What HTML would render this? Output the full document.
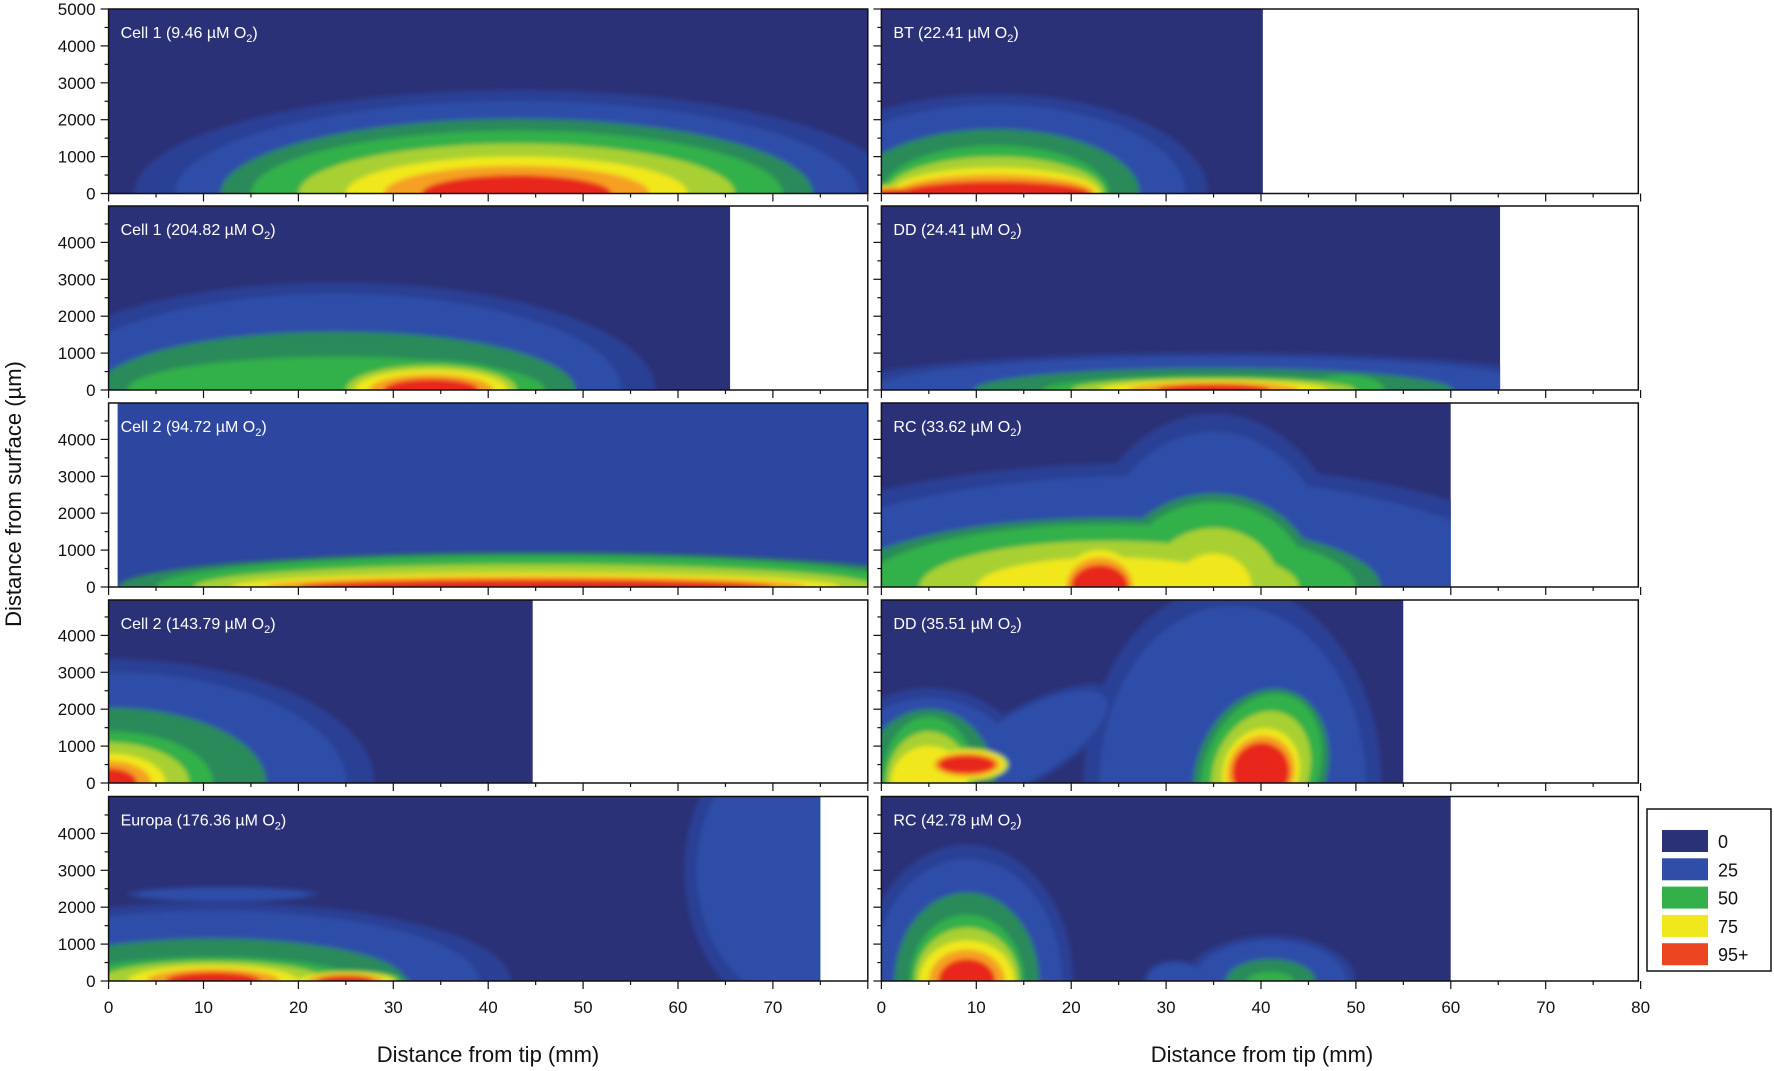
<!DOCTYPE html>
<html><head><meta charset="utf-8"><style>
html,body{margin:0;background:#fff;width:1774px;height:1071px;overflow:hidden}
svg{display:block;overflow:hidden}
text{font-family:"Liberation Sans",sans-serif}
</style></head><body>
<svg id="s" width="1774" height="1071" xmlns="http://www.w3.org/2000/svg"></svg>
<script>
const S=document.getElementById('s');let h='';
h+='<defs><filter id="b" x="-20%" y="-20%" width="140%" height="140%"><feGaussianBlur stdDeviation="2.5"/></filter></defs>';
const C={bg:'#2b3176',b1:'#2c3f95',b:'#2e4ea8',g0:'#2a8a5a',g:'#33b04a',gy:'#a8d030',y:'#f0e81c',o:'#f5a020',r:'#e8281e'};
const rows=[[9,193.5],[206,390],[403,587],[600,783],[796.5,981]];
const cols=[[108.6,867.8],[881.4,1638.3]];
const PX=(867.8-108.6)/80, PY=184.5/5000;
function lv(bl){const [cx,cy,rot,b,g,y,r]=bl;const L=[];
 const mid=(a,c,t)=>a?[a[0]+(c[0]-a[0])*t,a[1]+(c[1]-a[1])*t]:[c[0]*1.1,c[1]*1.1];
 if(b){L[0]=[b[0]*1.12,b[1]*1.12];L[1]=b;}
 if(g){L[2]=mid(b,g,0.6);L[3]=g;}
 if(y){L[4]=mid(g,y,0.5);L[5]=y;}
 if(r){L[6]=mid(y,r,0.5);L[7]=r;}
 return L;}
const seq=['b1','b','g0','g','gy','y','o','r'];
const P=[
 {c:0,r:0,end:80,bg:C.bg,t:'Cell 1 (9.46 µM O',bl:[[43,0,0,[36,2500],[28,1700],[18,1000],[10,500]]]},
 {c:0,r:1,end:65.5,bg:C.bg,t:'Cell 1 (204.82 µM O',bl:[[24,0,0,[30,2600],[22,900]],[34,0,0,null,[10,800],[8,550],[5,300]]]},
 {c:0,r:2,end:80,bg:'#2d46a0',t:'Cell 2 (94.72 µM O',bl:[[45,0,0,null,[40,850],[32,380],[25,200]]]},
 {c:0,r:3,end:44.7,bg:C.bg,t:'Cell 2 (143.79 µM O',bl:[[0,0,0,[25,3000],[11,1400],[6,800],[3,400]]]},
 {c:0,r:4,end:75,bg:C.bg,t:'Europa (176.36 µM O',bl:[[11,0,0,[28,1900],[15,650],[9,420],[5,240]],[25,0,0,null,[6,300],[5,220],[3,150]],[12,2350,0,[9,180]],[73,3000,0,[11,3600]]]},
 {c:1,r:0,end:40.2,bg:C.bg,t:'BT (22.41 µM O',bl:[[12,0,0,[20,2400],[12,1300],[11,700],[10,330]],[2,0,0,null,[5,300],[4,200],[3,120]]]},
 {c:1,r:1,end:65.2,bg:C.bg,t:'DD (24.41 µM O',bl:[[35,0,0,[36,900],[18,380],[12,260],[6,160]],[49,0,0,null,[4,400]]]},
 {c:1,r:2,end:60,bg:C.bg,t:'RC (33.62 µM O',bl:[[28,0,0,[40,3000]],[35,0,0,[13,4200]],[24,0,0,null,[26,1700],[14,800]],[35,0,0,null,[10,2300],[4,900]],[23,0,0,null,[5,1400],[4,1000],[3,600]]]},
 {c:1,r:3,end:55,bg:C.bg,t:'DD (35.51 µM O',bl:[[37,0,0,[14,4800]],[15,1000,-30,[10,900]],[5,0,0,[10,2300],[5,1800],[4,1000]],[9,500,0,null,null,[4,400],[3,250]],[40,300,22,[8,2500],[6,2200],[4,1200],[3,800]]]},
 {c:1,r:4,end:60,bg:C.bg,t:'RC (42.78 µM O',bl:[[9,0,0,[10,3300],[6,1800],[5,1100],[3,600]],[41,0,0,[8,1100],[2.5,250]],[31,0,0,[3,500]]]}
];
P.forEach((p,i)=>{const [x0,x1]=cols[p.c],[yt,yb]=rows[p.r];const xe=x0+p.end*PX;
 h+=`<clipPath id="c${i}"><rect x="${x0}" y="${yt}" width="${xe-x0}" height="${yb-yt}"/></clipPath>`;
 h+=`<g clip-path="url(#c${i})"><rect x="${x0}" y="${yt}" width="${xe-x0}" height="${yb-yt}" fill="${p.bg}"/><g filter="url(#b)">`;
 const Ls=p.bl.map(lv);
 for(let k=0;k<8;k++)p.bl.forEach((bl,j)=>{const e=Ls[j][k];if(!e)return;const X=x0+bl[0]*PX,Y=yb-bl[1]*PY;
  h+=`<ellipse cx="${X}" cy="${Y}" rx="${e[0]*PX}" ry="${e[1]*PY}" fill="${C[seq[k]]}" transform="rotate(${bl[2]} ${X} ${Y})"/>`;});
 h+='</g></g>';
 if(i==2)h+=`<rect x="${x0}" y="${yt}" width="9" height="${yb-yt}" fill="#fff"/>`;
 h+=`<rect x="${x0}" y="${yt}" width="${x1-x0}" height="${yb-yt}" fill="none" stroke="#111" stroke-width="1.5"/>`;
 h+=`<text x="${x0+12}" y="${yt+29}" font-size="16" fill="#fff">${p.t}<tspan font-size="11" dy="4">2</tspan><tspan dy="-4">)</tspan></text>`;
 for(let m=0;m<=80;m+=5){const X=x0+m*PX;h+=`<line x1="${X}" y1="${yb}" x2="${X}" y2="${yb+(m%10?4:8)}" stroke="#111" stroke-width="1.2"/>`;}
 for(let v=0;v<=5000;v+=500){const Y=yb-v*PY;if(v==5000&&p.r)continue;h+=`<line x1="${x0}" y1="${Y}" x2="${x0-(v%1000?4:8)}" y2="${Y}" stroke="#111" stroke-width="1.2"/>`;
  if(p.c==0&&v%1000==0)h+=`<text x="${x0-13}" y="${Y+6}" font-size="17" text-anchor="end" fill="#111">${v}</text>`;}
 if(p.r==4){for(let m=0;m<=(p.c?80:70);m+=10)h+=`<text x="${x0+m*PX}" y="${yb+32}" font-size="17" text-anchor="middle" fill="#111">${m}</text>`;}
});
h+=`<text x="488" y="1062" font-size="22" text-anchor="middle" fill="#111">Distance from tip (mm)</text>`;
h+=`<text x="1262" y="1062" font-size="22" text-anchor="middle" fill="#111">Distance from tip (mm)</text>`;
h+=`<text transform="translate(21 494) rotate(-90)" font-size="22" text-anchor="middle" fill="#111">Distance from surface (µm)</text>`;
h+=`<rect x="1647" y="809" width="124" height="162" fill="#fff" stroke="#111" stroke-width="1.5"/>`;
[['0',C.bg],['25',C.b],['50',C.g],['75',C.y],['95+','#ec4522']].forEach((l,k)=>{const y=830+k*28.3;
 h+=`<rect x="1662" y="${y}" width="46" height="22" fill="${l[1]}"/><text x="1718" y="${y+18}" font-size="18" fill="#111">${l[0]}</text>`;});
S.innerHTML=h;
</script>
</body></html>
